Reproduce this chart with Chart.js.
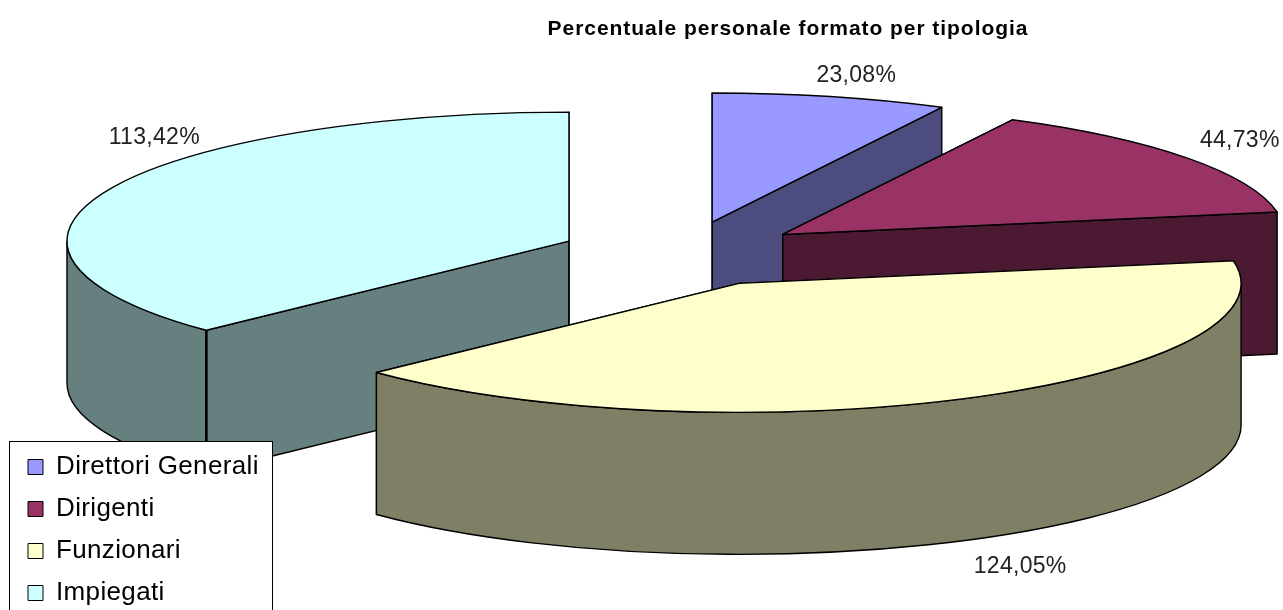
<!DOCTYPE html>
<html>
<head>
<meta charset="utf-8">
<title>Percentuale personale formato per tipologia</title>
<script src="https://cdn.jsdelivr.net/npm/chart.js@4"></script>
<style>
    html, body { margin: 0; padding: 0; background: #fff; overflow: hidden; }
    canvas { display: block; }
</style>
</head>
<body>
<canvas id="grafico" width="1283" height="610"></canvas>
<script>
const categorie = ['Direttori Generali', 'Dirigenti', 'Funzionari', 'Impiegati'];
const percentuali = [23.08, 44.73, 124.05, 113.42];
const coloriTop = ['#9999ff', '#993366', '#ffffcc', '#ccffff'];
const coloriLato = ['#4c4c7f', '#4c1933', '#7f7f66', '#667f7f'];
const spostaEtichette = [[26, -21], [53, -17], [54, 26], [47, -53]];

// finta prospettiva 3D: il cerchio della torta viene schiacciato in un'ellisse
const centroX = 683, centroY = 254;
const raggioX = 502, raggioY = 129;
const spessore = 142;
const esplosioneX = 0.247, esplosioneY = 0.255;

function apice(el) {
    const mid = (el.startAngle + el.endAngle) / 2;
    return {
        x: centroX + raggioX * esplosioneX * Math.cos(mid),
        y: centroY + raggioY * esplosioneY * Math.sin(mid)
    };
}

function parete(ctx, a, angolo) {
    const rx = a.x + raggioX * Math.cos(angolo);
    const ry = a.y + raggioY * Math.sin(angolo);
    ctx.beginPath();
    ctx.moveTo(a.x, a.y);
    ctx.lineTo(rx, ry);
    ctx.lineTo(rx, ry + spessore);
    ctx.lineTo(a.x, a.y + spessore);
    ctx.closePath();
    ctx.fill();
    ctx.stroke();
}

function disegnaFetta(ctx, el, i) {
    const a = apice(el);
    ctx.save();
    ctx.fillStyle = coloriLato[i];
    ctx.strokeStyle = '#000';
    ctx.lineWidth = 1.4;
    ctx.lineJoin = 'round';
    parete(ctx, a, el.startAngle);
    parete(ctx, a, el.endAngle);

    // parte curva, solo la meta' davanti
    const da = Math.max(el.startAngle, 0);
    const fino = Math.min(el.endAngle, Math.PI);
    if (fino > da) {
        ctx.beginPath();
        ctx.ellipse(a.x, a.y, raggioX, raggioY, 0, da, fino);
        ctx.ellipse(a.x, a.y + spessore, raggioX, raggioY, 0, fino, da, true);
        ctx.closePath();
        ctx.fill();
        ctx.stroke();
        // spigolo tra parete e parte curva
        if (el.startAngle > 0 && el.startAngle < Math.PI) {
            const sx = a.x + raggioX * Math.cos(el.startAngle);
            const sy = a.y + raggioY * Math.sin(el.startAngle);
            ctx.save();
            ctx.lineWidth = 2.6;
            ctx.beginPath();
            ctx.moveTo(sx, sy);
            ctx.lineTo(sx, sy + spessore);
            ctx.stroke();
            ctx.restore();
        }
    }

    // faccia sopra: e' l'arco di Chart.js
    ctx.save();
    ctx.translate(a.x, a.y);
    ctx.scale(raggioX / el.outerRadius, raggioY / el.outerRadius);
    ctx.translate(-el.x, -el.y);
    el.draw(ctx);
    ctx.restore();

    ctx.beginPath();
    ctx.moveTo(a.x, a.y);
    ctx.ellipse(a.x, a.y, raggioX, raggioY, 0, el.startAngle, el.endAngle);
    ctx.closePath();
    ctx.stroke();
    ctx.restore();
}

const torta3d = {
    id: 'torta3d',
    afterLayout(chart) {
        chart.titleBlock.left = 293;
        chart.titleBlock.right = 1283;
        chart.legend.right += 14; // la spaziatura delle lettere non entra nel calcolo della larghezza
    },
    beforeDraw(chart) {
        chart.ctx.letterSpacing = '0.95px'; // il titolo nell'originale e' piu' largo
    },
    beforeDatasetsDraw(chart) {
        chart.ctx.letterSpacing = '0px';
    },
    beforeDatasetDraw(chart) {
        const ctx = chart.ctx;
        const archi = chart.getDatasetMeta(0).data;
        // prima le fette dietro, poi quelle davanti
        const ordine = archi.map((el, i) => i).sort((p, q) => apice(archi[p]).y - apice(archi[q]).y);
        ordine.forEach(i => disegnaFetta(ctx, archi[i], i));
        return false;
    },
    afterDatasetsDraw(chart) {
        const ctx = chart.ctx;
        const archi = chart.getDatasetMeta(0).data;
        ctx.save();
        ctx.font = '23px "Liberation Sans"';
        ctx.letterSpacing = '0.3px';
        ctx.fillStyle = '#222';
        ctx.textAlign = 'center';
        ctx.textBaseline = 'middle';
        archi.forEach((el, i) => {
            const a = apice(el);
            const mid = (el.startAngle + el.endAngle) / 2;
            const x = a.x + raggioX * Math.cos(mid) + spostaEtichette[i][0];
            let y = a.y + raggioY * Math.sin(mid) + spostaEtichette[i][1];
            if (Math.sin(mid) > 0) y += spessore;
            ctx.fillText(percentuali[i].toFixed(2).replace('.', ',') + '%', x, y);
        });

        // riquadro legenda sopra la torta
        ctx.fillStyle = '#fff';
        ctx.strokeStyle = '#000';
        ctx.lineWidth = 1;
        ctx.fillRect(9.5, 441.5, 263, 175);
        ctx.strokeRect(9.5, 441.5, 263, 175);
        ctx.restore();
        ctx.letterSpacing = '0.35px';
        chart.legend.draw();
        ctx.letterSpacing = '0px';
    }
};

new Chart(document.getElementById('grafico').getContext('2d'), {
    type: 'pie',
    data: {
        labels: categorie,
        datasets: [{
            data: percentuali,
            backgroundColor: coloriTop,
            borderWidth: 0
        }]
    },
    options: {
        responsive: false,
        animation: false,
        events: [],
        layout: { padding: { left: 12, bottom: -12 } },
        plugins: {
            tooltip: { enabled: false },
            title: {
                display: true,
                text: 'Percentuale personale formato per tipologia',
                color: '#000',
                font: { family: '"Liberation Sans"', size: 21, weight: 'bold' },
                padding: { top: 17, bottom: 10 }
            },
            legend: {
                position: 'left',
                align: 'end',
                labels: {
                    color: '#000',
                    boxWidth: 15,
                    boxHeight: 15,
                    padding: 16,
                    font: { family: '"Liberation Sans"', size: 26 },
                    generateLabels(chart) {
                        return Chart.overrides.doughnut.plugins.legend.labels.generateLabels(chart)
                            .map(item => Object.assign(item, { strokeStyle: '#000', lineWidth: 1 }));
                    }
                }
            }
        }
    },
    plugins: [torta3d]
});
</script>
</body>
</html>
